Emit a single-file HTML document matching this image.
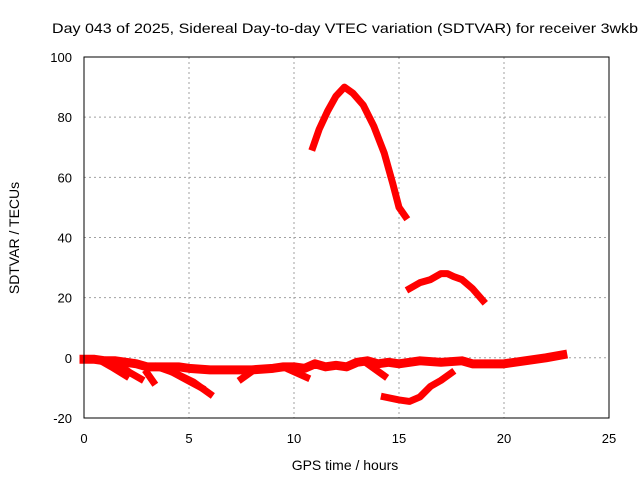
<!DOCTYPE html>
<html><head><meta charset="utf-8"><style>
body{margin:0;background:#fff}
svg{display:block;font-family:"Liberation Sans",sans-serif}
</style></head><body>
<svg id="chart" width="640" height="480" xmlns="http://www.w3.org/2000/svg">
<rect width="640" height="480" fill="#fff"/>
<text x="52" y="33" font-size="14" textLength="586" lengthAdjust="spacingAndGlyphs">Day 043 of 2025, Sidereal Day-to-day VTEC variation (SDTVAR) for receiver 3wkb</text>
<g id="grid"></g>
<g id="series"></g>
<rect x="84" y="57" width="525" height="361" fill="none" stroke="#000" stroke-width="1"/>
<g id="ticks" font-size="13"></g>
<text x="345" y="470" font-size="14" text-anchor="middle">GPS time / hours</text>
<text transform="translate(19,238) rotate(-90)" font-size="14" text-anchor="middle">SDTVAR / TECUs</text>
</svg>
<script>
const xTicks=[0,5,10,15,20,25];
const yTicks=[-20,0,20,40,60,80,100];
const mainBand=[[0,-0.5],[0.5,-0.5],[1,-1],[1.5,-1],[2,-1.5],[2.5,-2],[3,-3],[3.5,-3],[4,-3],[4.5,-3],[5,-3.5],[6,-4],[7,-4],[8,-4],[9,-3.5],[9.5,-3],[10,-3],[10.5,-3.5],[11,-2],[11.5,-3],[12,-2.5],[12.5,-3],[13,-1.5],[13.5,-1],[14,-2],[14.5,-1.5],[15,-2],[15.5,-1.5],[16,-1],[17,-1.5],[18,-1],[18.5,-2],[19,-2],[20,-2],[21,-1],[22,0],[22.8,1]];
const branch1=[[0.8,-1],[1.3,-3],[2,-6]];
const branch2=[[1.6,-2],[2.2,-5],[2.7,-7]];
const branch3=[[3,-5],[3.3,-8]];
const branch4=[[3.5,-3],[4.3,-5],[5.2,-8],[6,-12]];
const branch5=[[4,-4],[4.8,-7],[5.6,-10]];
const branch6=[[7.5,-7],[8,-4.5]];
const branch7=[[9.8,-4],[10.6,-6.5]];
const branch8=[[13.5,-2],[14.3,-6]];
const peakArc=[[10.9,70],[11.2,76],[11.6,82],[12,87],[12.4,90],[12.8,88],[13.3,84],[13.8,77],[14.3,68],[14.7,58],[15,50],[15.3,47]];
const midArc=[[15.5,23],[16,25],[16.5,26],[17,28],[17.3,28],[17.6,27],[18,26],[18.5,23],[19,19]];
const dipArc=[[14.3,-13],[15,-14],[15.5,-14.5],[16,-13],[16.5,-9.5],[17,-7.5],[17.5,-5]];
const allSeries=[mainBand,branch1,branch2,branch3,branch4,branch5,branch6,branch7,branch8,peakArc,midArc,dipArc];
const NS="http://www.w3.org/2000/svg";
const X=v=>84+v*21;
const Y=v=>357.8-v*3.008;
const grid=document.getElementById('grid'),ticks=document.getElementById('ticks'),ser=document.getElementById('series');
function mk(tag,attrs,parent){const e=document.createElementNS(NS,tag);for(const k in attrs)e.setAttribute(k,attrs[k]);parent.appendChild(e);return e;}
xTicks.forEach(t=>{
 if(t>0&&t<25){const g=mk('line',{x1:X(t),x2:X(t),y1:57,y2:418,stroke:'#a0a0a0','stroke-dasharray':'2,3'},grid);
 
 }
 const tl=mk('text',{x:X(t),y:443,'text-anchor':'middle'},ticks);tl.textContent=t;
 
 
});
yTicks.forEach(t=>{
 if(t>-20&&t<100){const g=mk('line',{x1:84,x2:609,y1:Y(t),y2:Y(t),stroke:'#a0a0a0','stroke-dasharray':'2,3'},grid);
 
 }
 const tl=mk('text',{x:72,y:Y(t)+5,'text-anchor':'end'},ticks);tl.textContent=t;
 
 
});
allSeries.forEach((s,i)=>{
 const p=mk('polyline',{points:s.map(d=>X(d[0])+','+Y(d[1])).join(' '),fill:'none',stroke:'#ff0000','stroke-width':(i===0?9:7),'stroke-linejoin':'round','stroke-linecap':'square'},ser);
 
 
});
</script>
</body></html>
